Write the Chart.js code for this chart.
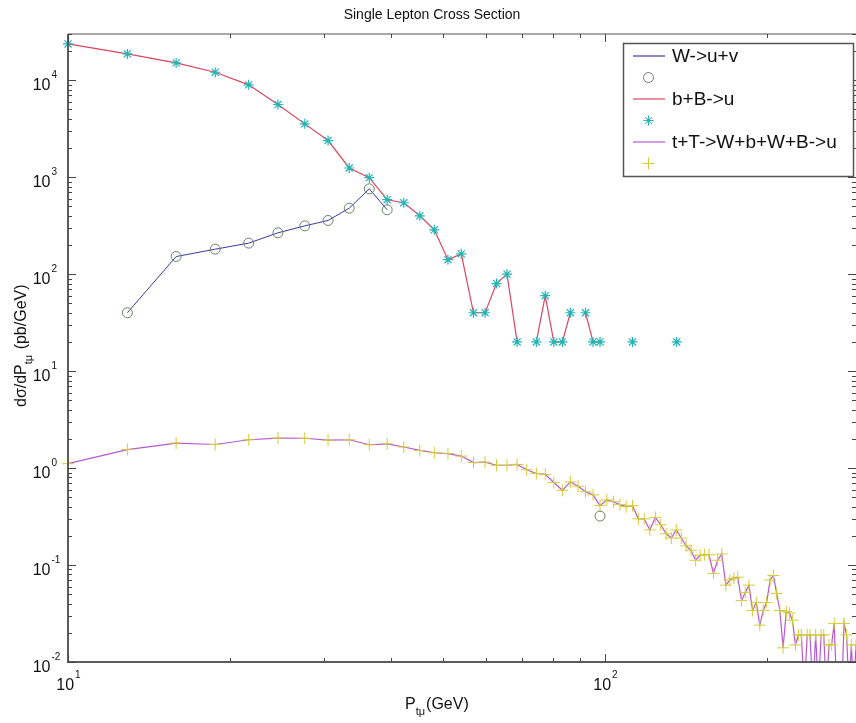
<!DOCTYPE html>
<html>
<head>
<meta charset="utf-8">
<title>Single Lepton Cross Section</title>
<script src="https://cdn.jsdelivr.net/npm/chart.js@4.4.1/dist/chart.umd.min.js"></script>
<style>
  html, body { margin: 0; padding: 0; background: #fff; }
  #wrap { width: 856px; height: 723px; }
</style>
</head>
<body>
<div id="wrap"><canvas id="xsecChart" width="856" height="723"></canvas></div>
<script>
// Single lepton cross section, dsigma/dPt vs muon Pt, log-log

const seriesNames = ['W->u+v', 'b+B->u', 't+T->W+b+W+B->u'];

// W -> mu + nu  (null breaks the line)
const wPt   = [12.9, 15.9, 18.8, 21.7, 24.6, 27.6, 30.5, 33.4, 36.4, 39.3, 42.2, 97.9];
const wXsec = [40, 152, 181, 209, 267, 315, 358, 479, 759, 461, null, 0.32];

// b bbar -> mu
const bbPt   = [10.0, 12.9, 15.9, 18.8, 21.7, 24.6, 27.6, 30.5, 33.4, 36.4, 39.3, 42.2, 45.2, 48.1,
                51.0, 54.0, 56.9, 59.8, 62.8, 65.7, 68.6, 71.5, 74.5, 77.4, 80.3, 83.3, 86.2, 89.1,
                92.0, 95.0, 97.9, 100.8, 112.5, 115.4, 136.0];
const bbXsec = [23700, 18700, 15100, 12100, 8970, 5620, 3550, 2390, 1245, 990, 586, 545, 400, 287,
                141, 162, 40, 40, 80, 100, 20, null, 20, 60, 20, 20, 40, null,
                40, 20, 20, null, 20, null, 20];

// t tbar -> W b W bbar -> mu
const ttPt   = [10.0, 12.9, 15.9, 18.8, 21.7, 24.6, 27.6, 30.5, 33.4, 36.4, 39.3, 42.2, 45.2, 48.1,
                51.0, 54.0, 56.9, 59.8, 62.8, 65.7, 68.6, 71.5, 74.5, 77.4, 80.3, 83.3, 86.2, 89.1,
                92.0, 95.0, 97.9, 100.8, 103.7, 106.6, 109.5, 112.5, 115.4, 118.3, 121.2, 124.1,
                127.0, 130.0, 132.9, 135.8, 138.7, 141.6, 144.6, 147.5, 150.4, 153.3, 156.2, 159.2,
                162.1, 165.0, 167.9, 170.8, 173.8, 176.7, 179.6, 182.5, 185.4, 188.3, 191.3, 194.2,
                197.1, 200.0, 203.0, 205.9, 208.8, 211.7, 214.6, 217.6, 220.5, 223.4, 226.3, 229.2,
                232.1, 235.1, 238.0, 240.9, 243.8, 246.8, 249.7, 252.6, 255.5, 258.4, 261.3, 264.3,
                267.2, 270.1, 273.0, 275.9, 278.8, 281.8, 284.7, 287.6, 290.5, 293.4];
const ttXsec = [1.11, 1.55, 1.81, 1.75, 1.96, 2.04, 2.03, 1.94, 1.96, 1.74, 1.78, 1.65, 1.52, 1.44,
                1.41, 1.33, 1.14, 1.15, 1.07, 1.07, 1.09, 0.96, 0.88, 0.86, 0.71, 0.59, 0.72, 0.65,
                0.57, 0.53, 0.41, 0.47, 0.45, 0.42, 0.40, 0.41, 0.30, 0.30, 0.23, 0.31,
                0.26, 0.21, 0.19, 0.23, 0.19, 0.158, 0.142, 0.112, 0.126, 0.128, 0.128, 0.082,
                0.112, 0.13, 0.062, 0.07, 0.073, 0.075, 0.043, 0.052, 0.062, 0.034, 0.041, 0.024,
                0.034, 0.041, 0.07, 0.078, 0.051, 0.034, 0.014, 0.033, 0.032, 0.027, 0.015, 0.019,
                0.019, 0.005, 0.019, 0.019, 0.005, 0.019, 0.005, 0.019, 0.019, 0.005, 0.015, 0.015,
                0.025, 0.005, 0.005, 0.005, 0.025, 0.019, 0.005, 0.015, 0.005, 0.015];

// axis decorations
const xTickExps = [1, 2];
const yTickExps = [-2, -1, 0, 1, 2, 3, 4];
const minorMults = [2, 3, 4, 5, 6, 7, 8, 9];

const FONT = "'Liberation Sans', Arial, Helvetica, sans-serif";

const colors = {
  wLine: '#3a3aa0', wMark: '#6b8466',
  bbLine: '#d8475f', bbMark: '#22b4b4',
  ttLine: '#b65ad0', ttMark: '#d4cd36'
};

function toPoints(xs, ys) {
  return xs.map((x, i) => ({ x: x, y: ys[i] }));
}

// marker shapes, also used by the legend
function drawMarker(ctx, style, x, y, r, color) {
  ctx.save();
  ctx.strokeStyle = color;
  ctx.lineWidth = 1;
  ctx.beginPath();
  if (style === 'circle') {
    ctx.arc(x, y, r, 0, Math.PI * 2);
  } else {
    ctx.moveTo(x - r, y); ctx.lineTo(x + r, y);
    ctx.moveTo(x, y - r); ctx.lineTo(x, y + r);
    if (style === 'star') {
      const d = r * 0.7071;
      ctx.moveTo(x - d, y - d); ctx.lineTo(x + d, y + d);
      ctx.moveTo(x - d, y + d); ctx.lineTo(x + d, y - d);
    }
  }
  ctx.stroke();
  ctx.restore();
}

function drawPow(ctx, exp, x, y, align) {
  const base = '10', sup = String(exp);
  ctx.font = '16px ' + FONT;
  const wb = ctx.measureText(base).width;
  ctx.font = '10px ' + FONT;
  const ws = ctx.measureText(sup).width;
  let left;
  if (align === 'right') left = x - wb;          // base ends at x
  else left = x - (wb + ws) / 2;                 // centred
  ctx.textAlign = 'left';
  ctx.textBaseline = 'alphabetic';
  ctx.font = '16px ' + FONT;
  ctx.fillText(base, left, y);
  ctx.font = '10px ' + FONT;
  ctx.fillText(sup, left + wb + 1, y - 12);
}

const frame = {
  id: 'frame',
  beforeDraw(chart) {
    const ctx = chart.ctx;
    ctx.save();
    ctx.fillStyle = '#fff';
    ctx.fillRect(0, 0, chart.width, chart.height);
    ctx.restore();
  },
  afterDraw(chart) {
    const ctx = chart.ctx;
    const a = chart.chartArea;
    const xs = chart.scales.x, ys = chart.scales.y;
    ctx.save();

    // axes box
    ctx.lineWidth = 2;
    ctx.strokeStyle = '#a8a8a8';
    ctx.beginPath(); ctx.moveTo(a.left, a.top); ctx.lineTo(a.right, a.top); ctx.stroke();
    ctx.strokeStyle = '#5c5c5c';
    ctx.beginPath();
    ctx.moveTo(a.left, a.top); ctx.lineTo(a.left, a.bottom); ctx.lineTo(a.right, a.bottom);
    ctx.stroke();

    // ticks, pointing inward
    ctx.lineWidth = 1;
    ctx.strokeStyle = '#444';
    const xTick = (v, len) => {
      const px = Math.round(xs.getPixelForValue(v)) + 0.5;
      if (px < a.left || px > a.right) return;
      ctx.beginPath();
      ctx.moveTo(px, a.bottom); ctx.lineTo(px, a.bottom - len);
      ctx.moveTo(px, a.top); ctx.lineTo(px, a.top + len);
      ctx.stroke();
    };
    const yTick = (v, len) => {
      const py = Math.round(ys.getPixelForValue(v)) + 0.5;
      if (py < a.top - 1 || py > a.bottom + 1) return;
      ctx.beginPath();
      ctx.moveTo(a.left, py); ctx.lineTo(a.left + len, py);
      ctx.moveTo(a.right, py); ctx.lineTo(a.right - len, py);
      ctx.stroke();
    };
    xTickExps.forEach(e => {
      const d = Math.pow(10, e);
      xTick(d, 8);
      minorMults.forEach(m => xTick(m * d, 4));
    });
    yTickExps.forEach(e => {
      const d = Math.pow(10, e);
      yTick(d, 8);
      minorMults.forEach(m => yTick(m * d, 4));
    });

    // tick labels
    ctx.fillStyle = '#111';
    xTickExps.forEach(e => {
      drawPow(ctx, e, xs.getPixelForValue(Math.pow(10, e)), a.bottom + 28, 'center');
    });
    yTickExps.forEach(e => {
      drawPow(ctx, e, 50.5, ys.getPixelForValue(Math.pow(10, e)) + 10, 'right');
    });

    // title
    ctx.font = '14px ' + FONT;
    ctx.textAlign = 'center';
    ctx.textBaseline = 'alphabetic';
    ctx.fillText('Single Lepton Cross Section', 432, 19);

    // x axis label: P_tmu(GeV)
    ctx.textAlign = 'left';
    let x0 = 405;
    ctx.font = '16px ' + FONT;
    ctx.fillText('P', x0, 709);
    x0 += ctx.measureText('P').width;
    ctx.font = '11px ' + FONT;
    ctx.fillText('t\u03bc', x0, 715);
    x0 += ctx.measureText('t\u03bc').width + 1;
    ctx.font = '16px ' + FONT;
    ctx.fillText('(GeV)', x0, 709);

    // y axis label: dsigma/dP_tmu (pb/GeV)
    ctx.save();
    ctx.translate(26, 407);
    ctx.rotate(-Math.PI / 2);
    let y0 = 0;
    ctx.font = '16px ' + FONT;
    ctx.fillText('d\u03c3/dP', y0, 0);
    y0 += ctx.measureText('d\u03c3/dP').width;
    ctx.font = '11px ' + FONT;
    ctx.fillText('t\u03bc', y0, 6);
    y0 += ctx.measureText('t\u03bc').width + 1;
    ctx.font = '16px ' + FONT;
    ctx.fillText(' (pb/GeV)', y0, 0);
    ctx.restore();

    // legend
    const lg = { left: 623.5, top: 43.5, width: 230, height: 133 };
    ctx.fillStyle = '#fff';
    ctx.fillRect(lg.left, lg.top, lg.width, lg.height);
    ctx.strokeStyle = '#555';
    ctx.lineWidth = 1.5;
    ctx.strokeRect(lg.left, lg.top, lg.width, lg.height);
    const rows = [
      { line: colors.wLine, text: seriesNames[0] },
      { mark: 'circle', color: colors.wMark, r: 5 },
      { line: colors.bbLine, text: seriesNames[1] },
      { mark: 'star', color: colors.bbMark, r: 5 },
      { line: colors.ttLine, text: seriesNames[2] },
      { mark: 'cross', color: colors.ttMark, r: 6 }
    ];
    ctx.font = '19px ' + FONT;
    ctx.textBaseline = 'middle';
    ctx.textAlign = 'left';
    rows.forEach((row, i) => {
      const cy = 56 + i * 21.5;
      if (row.line) {
        ctx.strokeStyle = row.line;
        ctx.lineWidth = 1.2;
        ctx.beginPath(); ctx.moveTo(633, cy); ctx.lineTo(665, cy); ctx.stroke();
        ctx.fillStyle = '#111';
        ctx.fillText(row.text, 672, cy + 1);
      } else {
        drawMarker(ctx, row.mark, 648.5, cy, row.r, row.color);
      }
    });

    ctx.restore();
  }
};

const chart = new Chart(document.getElementById('xsecChart'), {
  type: 'line',
  data: {
    datasets: [
      {
        label: seriesNames[0],
        data: toPoints(wPt, wXsec),
        borderColor: colors.wLine,
        borderWidth: 1,
        pointStyle: 'circle',
        pointRadius: 5,
        pointBorderWidth: 1,
        pointBorderColor: colors.wMark,
        pointBackgroundColor: 'rgba(0,0,0,0)',
        clip: false
      },
      {
        label: seriesNames[1],
        data: toPoints(bbPt, bbXsec),
        borderColor: colors.bbLine,
        borderWidth: 1.2,
        pointStyle: 'star',
        pointRadius: 5,
        pointBorderWidth: 1.2,
        pointBorderColor: colors.bbMark,
        pointBackgroundColor: colors.bbMark,
        clip: false
      },
      {
        label: seriesNames[2],
        data: toPoints(ttPt, ttXsec),
        borderColor: colors.ttLine,
        borderWidth: 1.2,
        pointStyle: 'cross',
        pointRadius: 6,
        pointBorderWidth: 1,
        pointBorderColor: colors.ttMark,
        pointBackgroundColor: colors.ttMark,
        clip: { left: 10, top: 10, right: 0, bottom: 0 }
      }
    ]
  },
  options: {
    responsive: false,
    animation: false,
    devicePixelRatio: 1,
    spanGaps: false,
    elements: { line: { tension: 0 } },
    layout: { autoPadding: false, padding: { left: 68, top: 34, right: 0, bottom: 61 } },
    scales: {
      x: { type: 'logarithmic', bounds: 'data', min: 10, max: 293.4, display: false },
      y: { type: 'logarithmic', bounds: 'data', min: 0.01, max: 30000, display: false }
    },
    plugins: {
      legend: { display: false },
      title: { display: false },
      tooltip: { enabled: false }
    }
  },
  plugins: [frame]
});
</script>
</body>
</html>
